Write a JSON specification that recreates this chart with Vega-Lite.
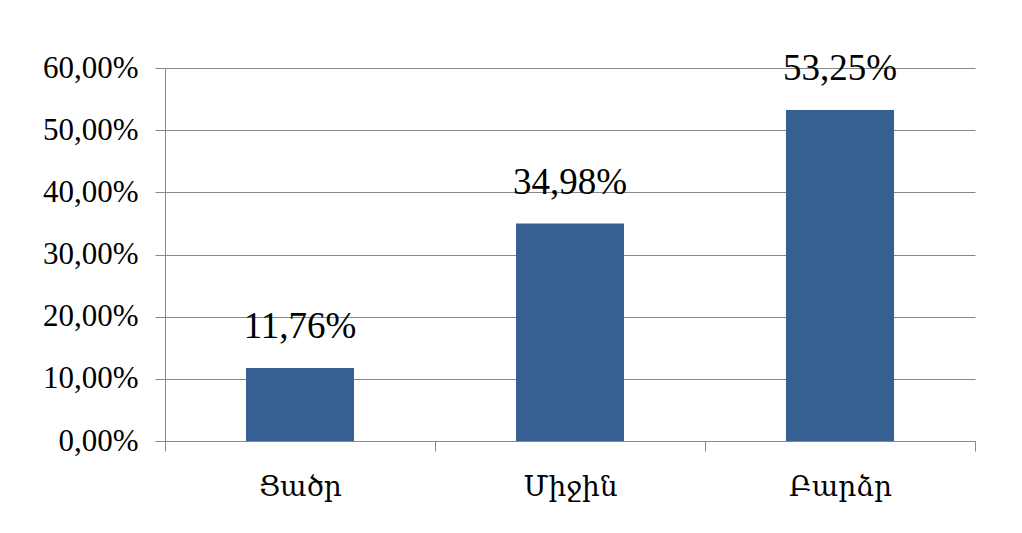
{
  "$schema": "https://vega.github.io/schema/vega-lite/v6.json",
  "width": 810,
  "height": 373,
  "autosize": "none",
  "padding": {"left": 165, "top": 68, "right": 47, "bottom": 92},
  "background": "#ffffff",
  "config": {
    "locale": {"number": {"decimal": ",", "thousands": " ", "grouping": [3], "currency": ["", ""]}},
    "view": {"stroke": null},
    "font": "Liberation Serif, DejaVu Serif"
  },
  "data": {
    "values": [
      {"level": "Ցածր", "share": 0.1176},
      {"level": "Միջին", "share": 0.3498},
      {"level": "Բարձր", "share": 0.5325}
    ]
  },
  "encoding": {
    "x": {
      "field": "level",
      "type": "nominal",
      "sort": null,
      "scale": {"paddingInner": 0, "paddingOuter": 0},
      "axis": {
        "title": null,
        "labelAngle": 0,
        "tickBand": "extent",
        "domainColor": "#888888",
        "tickColor": "#888888",
        "tickSize": 10,
        "labelFontSize": 28,
        "labelPadding": 22,
        "labelColor": "#000000",
        "labelFont": "Liberation Serif, DejaVu Serif",
        "grid": false
      }
    },
    "y": {
      "field": "share",
      "type": "quantitative",
      "scale": {"domain": [0, 0.6], "nice": false},
      "axis": {
        "title": null,
        "format": ".2%",
        "values": [0, 0.1, 0.2, 0.3, 0.4, 0.5, 0.6],
        "gridColor": "#888888",
        "domainColor": "#888888",
        "tickColor": "#888888",
        "tickSize": 10,
        "labelFontSize": 31,
        "labelPadding": 17,
        "labelColor": "#000000",
        "labelFont": "Liberation Serif, DejaVu Serif"
      }
    }
  },
  "layer": [
    {"mark": {"type": "bar", "width": {"band": 0.4}, "color": "#376092"}},
    {
      "mark": {"type": "text", "dy": -30, "fontSize": 37, "baseline": "alphabetic", "color": "#000000", "font": "Liberation Serif, DejaVu Serif"},
      "encoding": {"text": {"field": "share", "type": "quantitative", "format": ".2%"}}
    }
  ]
}
